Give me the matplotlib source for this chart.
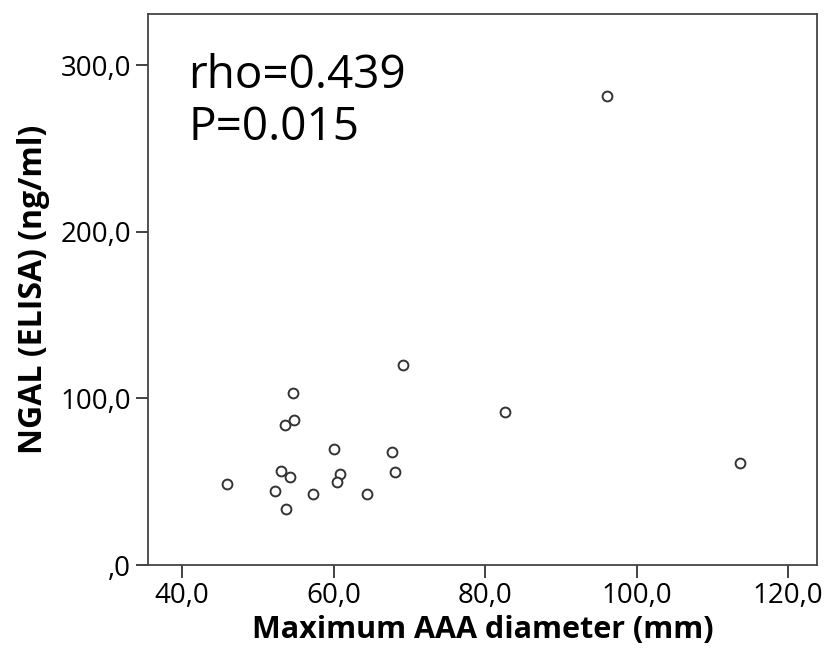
import matplotlib.pyplot as plt
from matplotlib.ticker import FuncFormatter

# Maximum AAA diameter (mm) vs NGAL (ng/ml)
diameter = [45.9, 54.7, 53.6, 54.8, 60.0, 67.7, 53.0, 54.2, 60.9, 60.5,
            68.1, 52.2, 57.3, 64.4, 53.7, 69.2, 82.6, 113.7, 96.1]
ngal = [48.4, 103.4, 83.8, 87.0, 69.8, 68.0, 56.6, 52.6, 54.6, 49.6,
        56.0, 44.6, 42.4, 42.4, 33.8, 120.0, 91.6, 61.0, 281.4]

x_ticks = [40, 60, 80, 100, 120]
y_ticks = [0, 100, 200, 300]

plt.rcParams['font.family'] = ['Open Sans', 'DejaVu Sans']

fig = plt.figure(figsize=(8.25, 6.53), dpi=100)
ax = fig.add_axes([148 / 825, 1 - 565 / 653, (817 - 148) / 825, (565 - 14) / 653])

ax.scatter(diameter, ngal, s=50, facecolors='white', edgecolors='#333333', linewidths=1.4, zorder=3)

ax.set_xlim(35.5, 123.8)
ax.set_ylim(0, 330.6)
ax.set_xticks(x_ticks)
ax.set_yticks(y_ticks)


def comma_fmt(v, pos):
    s = f"{v:.1f}".replace('.', ',')
    return ',0' if v == 0 else s


ax.xaxis.set_major_formatter(FuncFormatter(comma_fmt))
ax.yaxis.set_major_formatter(FuncFormatter(comma_fmt))
ax.tick_params(labelsize=20, length=9, width=1.2, color='#222222', pad=3)
for sp in ax.spines.values():
    sp.set_linewidth(1.3)
    sp.set_color('#444444')

ax.set_xlabel('Maximum AAA diameter (mm)', fontsize=22, fontweight='bold', labelpad=4)
ax.set_ylabel('NGAL (ELISA) (ng/ml)', fontsize=23, fontweight='bold', labelpad=8)

# annotation lines, baselines placed in axes fraction
ax.text(0.06, 0.866, 'rho=0.439', transform=ax.transAxes, fontsize=33,
        va='baseline', ha='left')
ax.text(0.06, 0.772, 'P=0.015', transform=ax.transAxes, fontsize=33,
        va='baseline', ha='left')

fig.savefig('out.png', dpi=100)
